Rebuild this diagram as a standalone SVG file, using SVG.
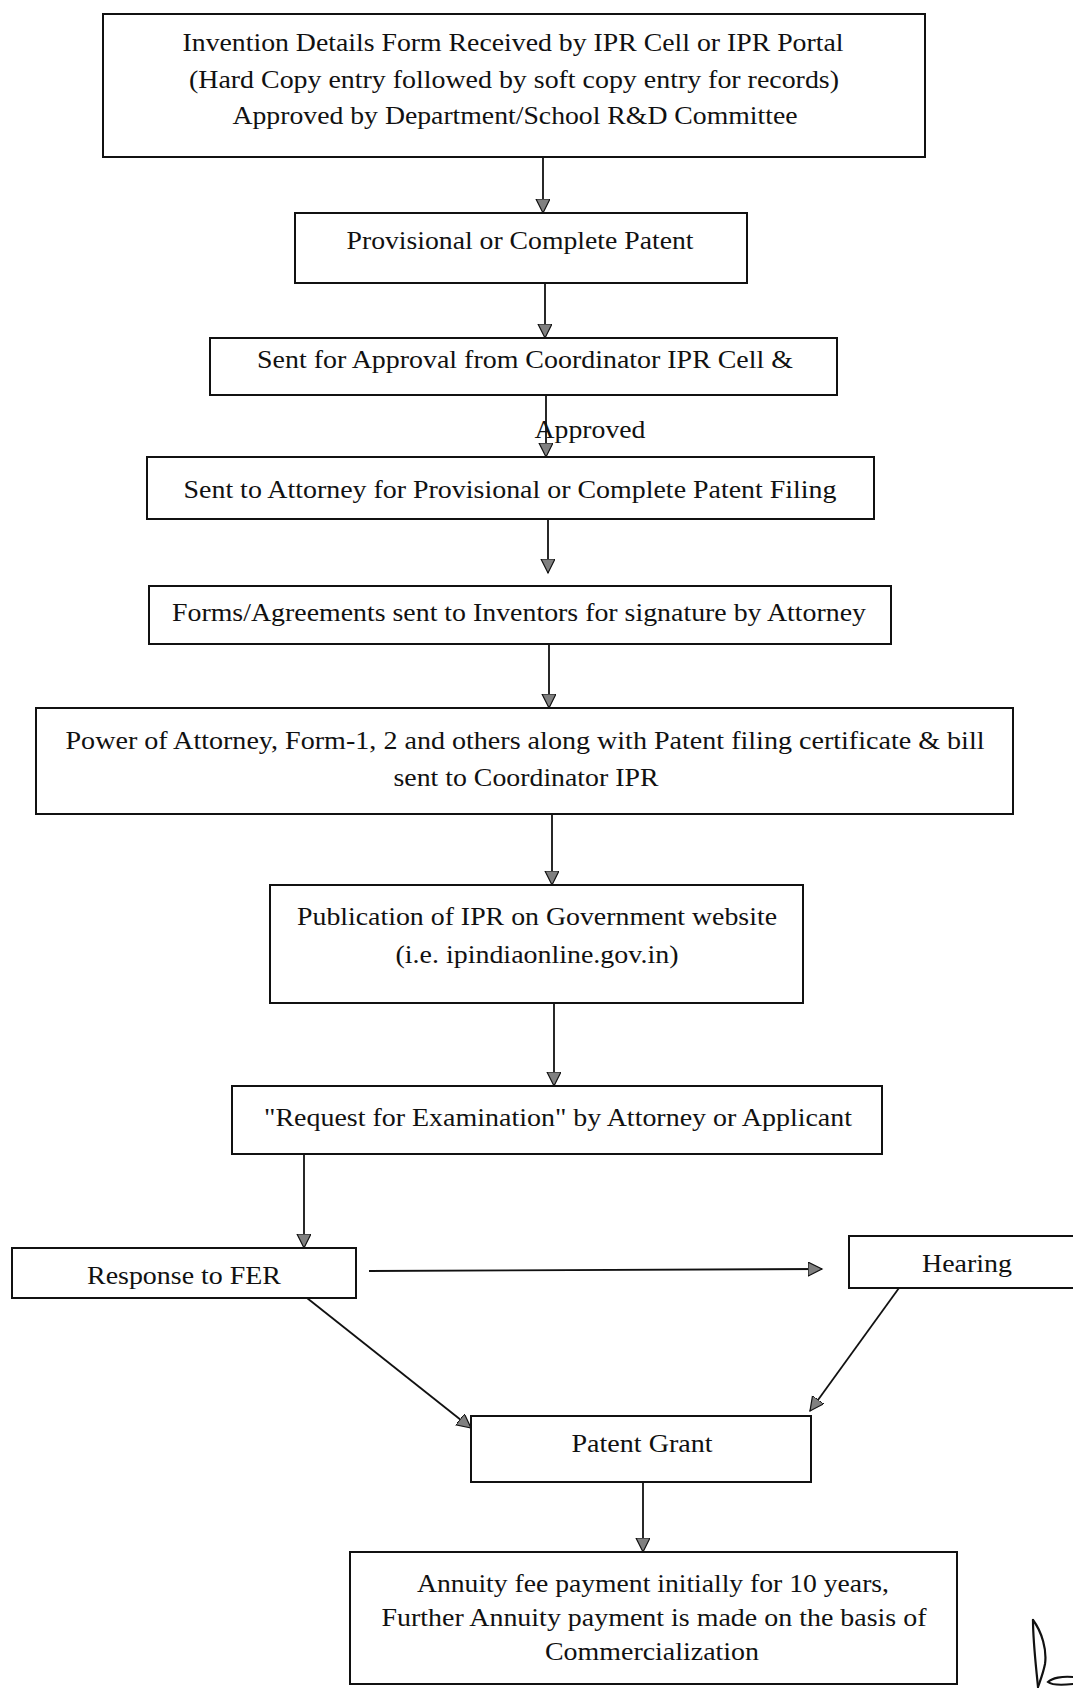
<svg xmlns="http://www.w3.org/2000/svg" width="1073" height="1688" viewBox="0 0 1073 1688">
<style>
.box{fill:#fff;stroke:#111;stroke-width:2}
.t{font-family:"Liberation Serif","Times New Roman",serif;font-size:26px;fill:#111;text-anchor:middle}
.c{fill:none;stroke:#111;stroke-width:1.8}
</style>
<defs>
<marker id="ah" markerUnits="userSpaceOnUse" markerWidth="16" markerHeight="16" refX="14" refY="7" orient="auto">
<path d="M0,0 L14,7 L0,14 z" fill="#808080" stroke="#111" stroke-width="1.2"/>
</marker>
</defs>
<rect width="1073" height="1688" fill="#fff"/>
<g id="connectors">
<line class="c" x1="543" y1="157" x2="543" y2="213" marker-end="url(#ah)"/>
<line class="c" x1="545" y1="283" x2="545" y2="338" marker-end="url(#ah)"/>
<line class="c" x1="546" y1="395" x2="546" y2="457" marker-end="url(#ah)"/>
<line class="c" x1="548" y1="519" x2="548" y2="573" marker-end="url(#ah)"/>
<line class="c" x1="549" y1="644" x2="549" y2="708" marker-end="url(#ah)"/>
<line class="c" x1="552" y1="814" x2="552" y2="885" marker-end="url(#ah)"/>
<line class="c" x1="554" y1="1003" x2="554" y2="1086" marker-end="url(#ah)"/>
<line class="c" x1="304" y1="1154" x2="304" y2="1248" marker-end="url(#ah)"/>
<line class="c" x1="369" y1="1271" x2="822" y2="1269" marker-end="url(#ah)"/>
<line class="c" x1="307" y1="1298" x2="471" y2="1428" marker-end="url(#ah)"/>
<line class="c" x1="899" y1="1288" x2="810" y2="1411" marker-end="url(#ah)"/>
<line class="c" x1="643" y1="1482" x2="643" y2="1552" marker-end="url(#ah)"/>
<text class="t" x="590" y="438" textLength="111" lengthAdjust="spacingAndGlyphs">Approved</text>
</g>
<g id="n1">
<rect class="box" x="103" y="14" width="822" height="143"/>
<text class="t" x="513" y="51" textLength="661" lengthAdjust="spacingAndGlyphs">Invention Details Form Received by IPR Cell or IPR Portal</text>
<text class="t" x="514" y="88" textLength="650" lengthAdjust="spacingAndGlyphs">(Hard Copy entry followed by soft copy entry for records)</text>
<text class="t" x="515" y="124" textLength="565" lengthAdjust="spacingAndGlyphs">Approved by Department/School R&amp;D Committee</text>
</g>
<g id="n2">
<rect class="box" x="295" y="213" width="452" height="70"/>
<text class="t" x="520" y="249" textLength="347" lengthAdjust="spacingAndGlyphs">Provisional or Complete Patent</text>
</g>
<g id="n3">
<rect class="box" x="210" y="338" width="627" height="57"/>
<text class="t" x="525" y="368" textLength="536" lengthAdjust="spacingAndGlyphs">Sent for Approval from Coordinator IPR Cell &amp;</text>
</g>
<g id="n4">
<rect class="box" x="147" y="457" width="727" height="62"/>
<text class="t" x="510" y="498" textLength="653" lengthAdjust="spacingAndGlyphs">Sent to Attorney for Provisional or Complete Patent Filing</text>
</g>
<g id="n5">
<rect class="box" x="149" y="586" width="742" height="58"/>
<text class="t" x="519" y="621" textLength="694" lengthAdjust="spacingAndGlyphs">Forms/Agreements sent to Inventors for signature by Attorney</text>
</g>
<g id="n6">
<rect class="box" x="36" y="708" width="977" height="106"/>
<text class="t" x="525" y="749" textLength="919" lengthAdjust="spacingAndGlyphs">Power of Attorney, Form-1, 2 and others along with Patent filing certificate &amp; bill</text>
<text class="t" x="526" y="786" textLength="265" lengthAdjust="spacingAndGlyphs">sent to Coordinator IPR</text>
</g>
<g id="n7">
<rect class="box" x="270" y="885" width="533" height="118"/>
<text class="t" x="537" y="925" textLength="480" lengthAdjust="spacingAndGlyphs">Publication of IPR on Government website</text>
<text class="t" x="537" y="963" textLength="283" lengthAdjust="spacingAndGlyphs">(i.e. ipindiaonline.gov.in)</text>
</g>
<g id="n8">
<rect class="box" x="232" y="1086" width="650" height="68"/>
<text class="t" x="558" y="1126" textLength="588" lengthAdjust="spacingAndGlyphs">"Request for Examination" by Attorney or Applicant</text>
</g>
<g id="n9">
<rect class="box" x="12" y="1248" width="344" height="50"/>
<text class="t" x="184" y="1284" textLength="194" lengthAdjust="spacingAndGlyphs">Response to FER</text>
</g>
<g id="n10">
<rect class="box" x="849" y="1236" width="240" height="52"/>
<text class="t" x="967" y="1272" textLength="90" lengthAdjust="spacingAndGlyphs">Hearing</text>
</g>
<g id="n11">
<rect class="box" x="471" y="1416" width="340" height="66"/>
<text class="t" x="642" y="1452" textLength="141" lengthAdjust="spacingAndGlyphs">Patent Grant</text>
</g>
<g id="n12">
<rect class="box" x="350" y="1552" width="607" height="132"/>
<text class="t" x="653" y="1592" textLength="472" lengthAdjust="spacingAndGlyphs">Annuity fee payment initially for 10 years,</text>
<text class="t" x="654" y="1626" textLength="545" lengthAdjust="spacingAndGlyphs">Further Annuity payment is made on the basis of</text>
<text class="t" x="652" y="1660" textLength="214" lengthAdjust="spacingAndGlyphs">Commercialization</text>
</g>
<g id="signature" fill="none" stroke="#111" stroke-width="2.2" stroke-linecap="round">
<path d="M1033,1620 C1042,1632 1047,1650 1045,1664 C1043,1674 1040,1681 1038,1687"/>
<path d="M1033,1620 C1033,1642 1036,1666 1038,1687"/>
<path d="M1073,1677 C1062,1676 1052,1678 1048,1682 C1053,1686 1064,1685 1073,1684"/>
</g>
</svg>
